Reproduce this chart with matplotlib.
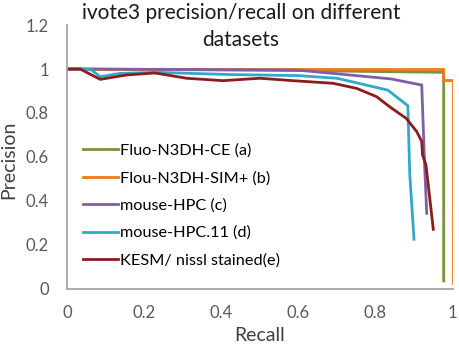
import matplotlib
matplotlib.use("Agg")
import matplotlib.pyplot as plt

plt.rcParams['font.family'] = ['Lato', 'DejaVu Sans']

# Series data (recall, precision)
fluo_ce_x = [0, 0.5, 0.977, 0.977]
fluo_ce_y = [1.0, 0.995, 0.985, 0.035]

flou_sim_x = [0, 0.976, 0.976, 1.0, 1.0]
flou_sim_y = [1.0, 1.0, 0.95, 0.95, 0.025]

hpc_x = [0, 0.06, 0.6, 0.84, 0.92, 0.928, 0.933]
hpc_y = [1.0, 1.0, 0.995, 0.955, 0.927, 0.54, 0.343]

hpc11_x = [0, 0.06, 0.086, 0.137, 0.23, 0.42, 0.6, 0.70, 0.832, 0.884, 0.889, 0.90]
hpc11_y = [1.0, 1.0, 0.965, 0.98, 0.985, 0.975, 0.97, 0.958, 0.904, 0.833, 0.52, 0.225]

kesm_x = [0, 0.034, 0.086, 0.155, 0.228, 0.31, 0.405, 0.50, 0.586, 0.69, 0.751,
          0.803, 0.837, 0.88, 0.907, 0.92, 0.922, 0.931, 0.95]
kesm_y = [1.0, 1.0, 0.953, 0.973, 0.982, 0.958, 0.947, 0.958, 0.947, 0.935, 0.912,
          0.874, 0.828, 0.775, 0.715, 0.67, 0.61, 0.563, 0.27]

labels = ['Fluo-N3DH-CE (a)', 'Flou-N3DH-SIM+ (b)', 'mouse-HPC (c)',
          'mouse-HPC.11 (d)', 'KESM/ nissl stained(e)']
colors = ['#77933C', '#F07818', '#7E5FA6', '#31A9C9', '#8E1B1B']

x_ticks = [0, 0.2, 0.4, 0.6, 0.8, 1]
y_ticks = [0, 0.2, 0.4, 0.6, 0.8, 1, 1.2]
x_ticklabels = ['0', '0.2', '0.4', '0.6', '0.8', '1']
y_ticklabels = ['0', '0.2', '0.4', '0.6', '0.8', '1', '1.2']

fig = plt.figure(figsize=(4.59, 3.44), dpi=100)
ax = fig.add_axes([0.146, 0.161, 0.84, 0.766])

series = [(fluo_ce_x, fluo_ce_y), (flou_sim_x, flou_sim_y), (hpc_x, hpc_y),
          (hpc11_x, hpc11_y), (kesm_x, kesm_y)]
for (xs, ys), lab, c in zip(series, labels, colors):
    ax.plot(xs, ys, color=c, lw=2.0, label=lab, solid_joinstyle='miter')

ax.set_xlim(0, 1)
ax.set_ylim(0, 1.2)
ax.set_xticks(x_ticks)
ax.set_xticklabels(x_ticklabels)
ax.set_yticks(y_ticks)
ax.set_yticklabels(y_ticklabels)
ax.tick_params(length=0, labelsize=12, labelcolor='#595959')
ax.tick_params(axis='x', pad=12)
ax.tick_params(axis='y', pad=13)

for s in ['top', 'right']:
    ax.spines[s].set_visible(False)
for s in ['left', 'bottom']:
    ax.spines[s].set_color('#A6A6A6')
    ax.spines[s].set_linewidth(1.3)

ax.set_xlabel('Recall', fontsize=14, color='#404040', va='top')
ax.xaxis.set_label_coords(0.5, -0.145)
ax.set_ylabel('Precision', fontsize=14, color='#404040')
ax.yaxis.set_label_coords(-0.13, 0.49)

fig.text(0.525, 0.962, 'ivote3 precision/recall on different', fontsize=15,
         color='#1a1a1a', ha='center', va='center')
fig.text(0.525, 0.884, 'datasets', fontsize=15, color='#1a1a1a',
         ha='center', va='center')

ax.legend(loc='upper left', bbox_to_anchor=(0.041, 0.55), frameon=False,
          fontsize=11.7, handlelength=2.15, handletextpad=0.12, labelspacing=0.8,
          borderaxespad=0, borderpad=0)

fig.savefig('out.png', dpi=100)
